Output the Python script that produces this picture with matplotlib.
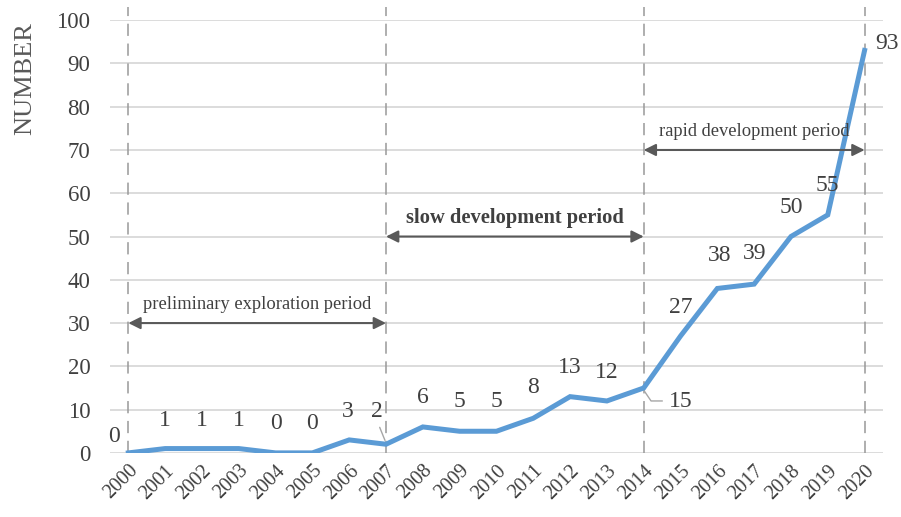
import matplotlib
matplotlib.use("Agg")
import matplotlib.pyplot as plt

years = [str(y) for y in range(2000, 2021)]
counts = [0, 1, 1, 1, 0, 0, 3, 2, 6, 5, 5, 8, 13, 12, 15, 27, 38, 39, 50, 55, 93]
# label anchor (x index, y value) for each data label
label_x = [-0.4, 1, 2, 3, 4, 5, 5.95, 6.75, 8, 9, 10, 11, 12, 13, 15, 15, 16.05, 17, 18, 19, 20.6]
label_y = [3.7, 7.6, 7.6, 7.6, 6.9, 6.9, 9.5, 9.5, 12.7, 11.8, 11.8, 15, 19.8, 18.5, 11.8, 33.7, 45.7, 46, 56.8, 61.9, 94.7]
periods = ["preliminary exploration period", "slow development period", "rapid development period"]
period_span = [(0, 7), (7, 14), (14, 20)]
period_y = [30, 50, 70]
boundaries = [0, 7, 14, 20]

plt.rcParams['font.family'] = ['Liberation Serif', 'DejaVu Serif']
GRAY = "#595959"

fig = plt.figure(figsize=(9.01, 5.17), dpi=100)
ax = fig.add_axes([0.122, 0.124, 0.858, 0.837])
x = list(range(len(years)))

ax.set_ylim(0, 100); ax.set_xlim(-0.5, 20.5)
ax.set_yticks(range(0, 101, 10))
ax.yaxis.grid(True, color="#d9d9d9", lw=1.3); ax.set_axisbelow(True)
for s in ax.spines.values(): s.set_visible(False)
ax.tick_params(length=0, colors="#404040", labelsize=16.5)
ax.tick_params(axis="y", pad=14)
ax.tick_params(axis="x", pad=6)
ax.set_xticks(x)
ax.set_xticklabels(years, rotation=45, ha="right", rotation_mode="anchor", fontsize=14.5)
ax.set_ylabel("NUMBER", fontsize=19, color=GRAY, va="center")
ax.yaxis.set_label_coords(-0.11, 0.866)

for b in boundaries:
    ax.plot([b, b], [0, 103], ls=(0, (8, 5)), color="#999999", lw=1.1, clip_on=False, zorder=1)

ax.plot(x, counts, color="#5b9bd5", lw=3.6, solid_joinstyle="miter", zorder=3)

for i, (lx, ly) in enumerate(zip(label_x, label_y)):
    ax.text(lx, ly, str(counts[i]), ha="center", va="center", fontsize=17, color="#404040", zorder=4)

# leader lines
ax.annotate("", xy=(7, 2.3), xytext=(6.8, 6.5),
            arrowprops=dict(arrowstyle="-", color="#a6a6a6", lw=1))
ax.plot([14, 14.2, 14.5], [14.5, 12, 12], color="#a6a6a6", lw=1, zorder=2)

for name, (a, b), py in zip(periods, period_span, period_y):
    ax.annotate("", xy=(a, py), xytext=(b, py),
                arrowprops=dict(arrowstyle="<|-|>", color=GRAY, lw=1.5, mutation_scale=18,
                                shrinkA=0, shrinkB=0))
    bold = name.startswith("slow")
    ax.text((a + b) / 2, py + 4.2, name, ha="center", va="center",
            fontsize=14.8 if bold else 13.3, color="#404040",
            fontweight="bold" if bold else "normal")

fig.savefig("out.png", dpi=100)
